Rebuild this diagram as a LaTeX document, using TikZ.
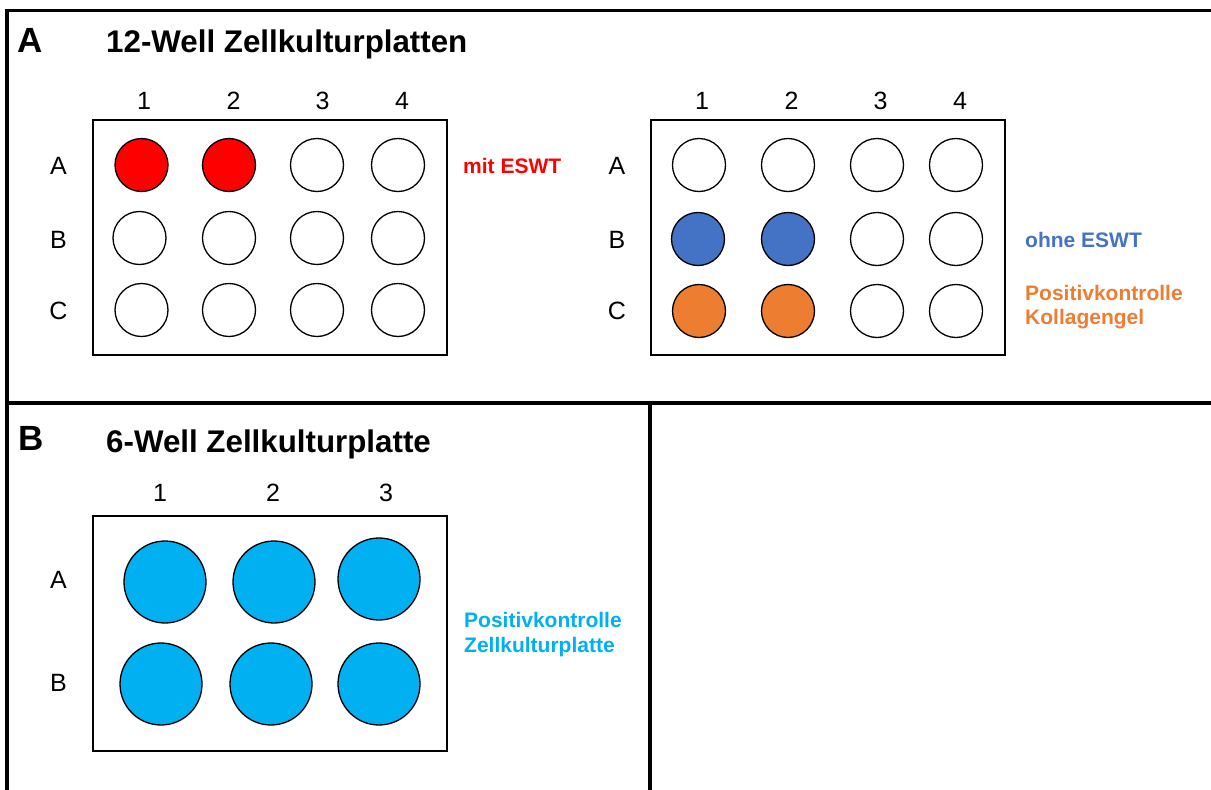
\documentclass[tikz,border=0pt]{standalone}
\usepackage{fontspec}
\setmainfont{Liberation Sans}
\definecolor{eswtred}{RGB}{255,0,0}
\definecolor{ohneblue}{RGB}{68,114,196}
\definecolor{kollorange}{RGB}{237,125,49}
\definecolor{platecyan}{RGB}{0,176,240}
\begin{document}
\begin{tikzpicture}[x=1pt,y=-1pt,
  frameline/.style={line width=3.3pt, black},
  plate/.style={draw, line width=1.3pt, inner sep=0pt, minimum width=354pt, minimum height=235pt},
  well/.style={circle, draw, line width=1.3pt, inner sep=0pt, minimum size=53pt, fill=white},
  bigwell/.style={well, minimum size=82pt, fill=platecyan},
  lbl/.style={font=\fontsize{25}{29}\selectfont, inner sep=0pt},
  ttl/.style={font=\bfseries\fontsize{31.3}{36}\selectfont, anchor=base west, inner sep=0pt},
  panel/.style={font=\bfseries\fontsize{35}{40}\selectfont, anchor=base west, inner sep=0pt},
  note/.style={font=\bfseries\fontsize{21}{24}\selectfont, anchor=base west, inner sep=0pt}]
\useasboundingbox (0,0) rectangle (1211,790);
% frame
\draw[frameline] (7,10.7) -- (1212,10.7);
\draw[frameline] (7,9) -- (7,792);
\draw[frameline] (7,403) -- (1212,403);
\draw[frameline] (650,403) -- (650,792);
% panel A
\node[panel] (pA) at (17,52) {A};
\node[ttl] (tA) at (106,52) {12-Well Zellkulturplatten};
% left 12-well plate
\node[plate] (plL) at (270,237.5) {};
\foreach \x/\n in {144/1,233.5/2,322.5/3,402/4}
  \node[lbl] (cL\n) at (\x,101) {\n};
\foreach \y/\r in {166/A,240/B,311/C}
  \node[lbl] (rL\r) at (58.5,\y) {\r};
\node[well, fill=eswtred] (L-A1) at (141.5,165) {};
\node[well, fill=eswtred] (L-A2) at (229,165) {};
\node[well] (L-A3) at (317,165) {};
\node[well] (L-A4) at (398,165) {};
\node[well] (L-B1) at (139.5,238) {};
\node[well] (L-B2) at (229,238) {};
\node[well] (L-B3) at (317,238) {};
\node[well] (L-B4) at (398,238) {};
\node[well] (L-C1) at (141.5,310) {};
\node[well] (L-C2) at (229,310) {};
\node[well] (L-C3) at (317,310) {};
\node[well] (L-C4) at (398,310) {};
\node[note, text=eswtred] (mit) at (463,173) {mit ESWT};
% right 12-well plate
\node[plate] (plR) at (828,237.5) {};
\foreach \x/\n in {702/1,791.5/2,880.5/3,960/4}
  \node[lbl] (cR\n) at (\x,101) {\n};
\foreach \y/\r in {166/A,240/B,311/C}
  \node[lbl] (rR\r) at (617,\y) {\r};
\node[well] (R-A1) at (699,165) {};
\node[well] (R-A2) at (788,165) {};
\node[well] (R-A3) at (877,165) {};
\node[well] (R-A4) at (956,165) {};
\node[well, fill=ohneblue] (R-B1) at (698,239) {};
\node[well, fill=ohneblue] (R-B2) at (788,239) {};
\node[well] (R-B3) at (877,239) {};
\node[well] (R-B4) at (956,239) {};
\node[well, fill=kollorange] (R-C1) at (699,311) {};
\node[well, fill=kollorange] (R-C2) at (788,311) {};
\node[well] (R-C3) at (877,311) {};
\node[well] (R-C4) at (956,311) {};
\node[note, text=ohneblue] (ohne) at (1025,247) {ohne ESWT};
\node[note, text=kollorange] (pk1) at (1025,300) {Positivkontrolle};
\node[note, text=kollorange] (pk2) at (1025,324.5) {Kollagengel};
% panel B
\node[panel] (pB) at (18,450) {B};
\node[ttl] (tB) at (106,452) {6-Well Zellkulturplatte};
\node[plate] (pl6) at (270,633.5) {};
\foreach \x/\n in {160/1,273/2,386/3}
  \node[lbl] (c6\n) at (\x,493) {\n};
\foreach \y/\r in {580/A,683/B}
  \node[lbl] (r6\r) at (58.5,\y) {\r};
\node[bigwell] (S-A1) at (165,582) {};
\node[bigwell] (S-A2) at (274,582) {};
\node[bigwell] (S-A3) at (379,579) {};
\node[bigwell] (S-B1) at (161,684) {};
\node[bigwell] (S-B2) at (271,684) {};
\node[bigwell] (S-B3) at (379,684) {};
\node[note, text=platecyan] (pz1) at (464,627) {Positivkontrolle};
\node[note, text=platecyan] (pz2) at (464,652) {Zellkulturplatte};
\end{tikzpicture}
\end{document}
